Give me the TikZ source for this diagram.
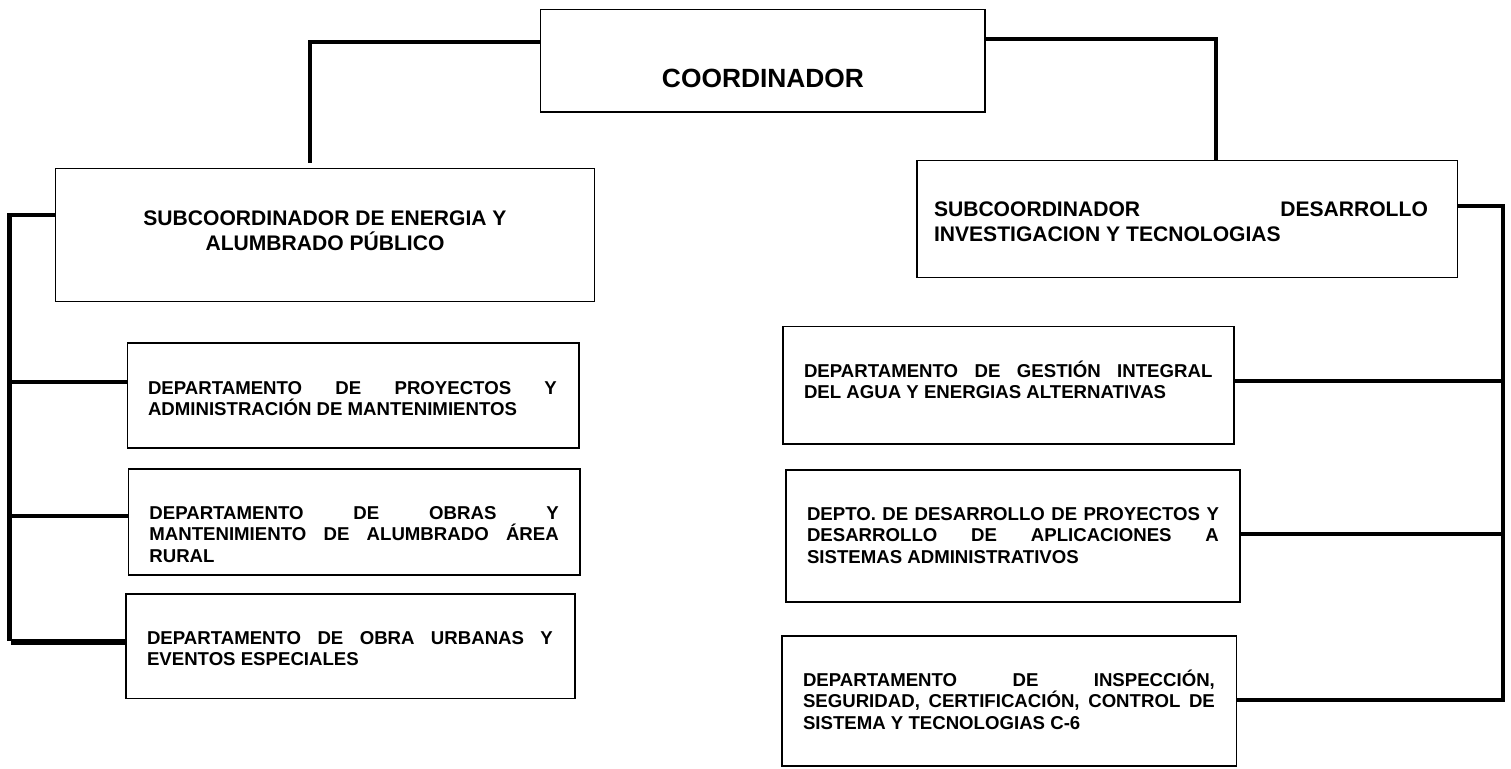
\documentclass[tikz,border=0pt]{standalone}
\usepackage{fontspec}
\setmainfont{Liberation Sans}
\usetikzlibrary{calc}
\newcommand{\deptfont}{\fontsize{10.6}{12.5}\selectfont}
\newcommand{\subfont}{\fontsize{12}{14.5}\selectfont}
\newcommand{\coordfont}{\fontsize{15}{18}\selectfont}
\newcommand{\jtext}[2]{\parbox[t]{#1}{\frenchspacing\hyphenpenalty=10000 \exhyphenpenalty=10000 \hbadness=10000 #2}}
\newcommand{\ctext}[2]{\parbox[t]{#1}{\centering\frenchspacing\hyphenpenalty=10000 #2}}
\tikzset{
  box/.style={draw, rectangle, line width=0.9pt, inner sep=0pt, outer sep=0pt, anchor=north west},
  txt/.style={inner sep=0pt, outer sep=0pt, anchor=base west, font=\bfseries\deptfont},
  conn/.style={line width=2.1pt},
  heavyconn/.style={line width=3.6pt},
}
\newcommand{\orgbox}[5]{\node[box, minimum width={(#4-#2)*0.02cm}, minimum height={(#5-#3)*0.02cm}] (#1) at (#2,#3) {};}
\begin{document}
\begin{tikzpicture}[x=0.02cm, y=-0.02cm]
\useasboundingbox (0,0) rectangle (1511,768);
\fill[white] (0,0) rectangle (1511,768);

% boxes
\orgbox{coord}{540.7}{9.7}{985}{112}
\orgbox{subL}{55.3}{168.7}{594.7}{301.7}
\orgbox{subR}{916.7}{160.5}{1457.3}{277.7}
\orgbox{dL1}{127.7}{343}{579}{448}
\orgbox{dL2}{128.7}{469}{580}{574.7}
\orgbox{dL3}{126}{593.7}{575}{698.3}
\orgbox{dR1}{782.7}{326.7}{1234}{444.2}
\orgbox{dR2}{786}{470}{1240}{601.7}
\orgbox{dR3}{782}{635.7}{1236.5}{766}

% texts
\node[txt, anchor=base, font=\bfseries\coordfont] (coordt) at (763,87) {COORDINADOR};
\node[txt, anchor=base, font=\bfseries\subfont] (subLt) at (325,225)
  {\ctext{10cm}{SUBCOORDINADOR DE ENERGIA Y\\ALUMBRADO PÚBLICO}};
\node[txt, font=\bfseries\subfont] (subRt) at (934,216)
  {\jtext{9.88cm}{SUBCOORDINADOR DESARROLLO\linebreak INVESTIGACION Y TECNOLOGIAS}};
\node[txt] (dL1t) at (148,394)
  {\jtext{8.18cm}{DEPARTAMENTO DE PROYECTOS Y\linebreak ADMINISTRACIÓN DE MANTENIMIENTOS}};
\node[txt] (dL2t) at (149.4,519)
  {\jtext{8.19cm}{DEPARTAMENTO DE OBRAS Y\linebreak MANTENIMIENTO DE ALUMBRADO ÁREA\linebreak RURAL}};
\node[txt] (dL3t) at (147,644)
  {\jtext{8.12cm}{DEPARTAMENTO DE OBRA URBANAS Y\linebreak EVENTOS ESPECIALES}};
\node[txt] (dR1t) at (804,377)
  {\jtext{8.17cm}{DEPARTAMENTO DE GESTIÓN INTEGRAL\linebreak DEL AGUA Y ENERGIAS ALTERNATIVAS}};
\node[txt] (dR2t) at (807,520)
  {\jtext{8.24cm}{DEPTO. DE DESARROLLO DE PROYECTOS Y\linebreak DESARROLLO DE APLICACIONES A\linebreak SISTEMAS ADMINISTRATIVOS}};
\node[txt] (dR3t) at (803,686)
  {\jtext{8.24cm}{DEPARTAMENTO DE INSPECCIÓN,\linebreak SEGURIDAD, CERTIFICACIÓN, CONTROL DE\linebreak SISTEMA Y TECNOLOGIAS C-6}};

% coordinator connectors
\coordinate (cL) at (310,42);
\coordinate (cLend) at (310,163);
\coordinate (cR) at (1216,38.7);
\draw[conn] (coord.west |- cL) -| (cLend);
\draw[conn] (coord.east |- cR) -| (subR.north -| cR);

% left bus
\coordinate (busL) at (9.5,215.3);
\coordinate (busLend) at (9.5,641);
\draw[conn, line width=2.4pt] (subL.west |- busL) -| (busLend);
\coordinate (bL1) at (9.5,381.7);
\coordinate (bL2) at (9.5,516);
\coordinate (bL3) at (11,642);
\draw[conn] (bL1) -- (bL1 -| dL1.west);
\draw[conn] (bL2) -- (bL2 -| dL2.west);
\draw[heavyconn] (bL3) -- (bL3 -| dL3.west);

% right bus
\coordinate (busR) at (1503,205.7);
\coordinate (busRend) at (1503,701.7);
\draw[conn, line width=2.3pt] (subR.east |- busR) -| (busRend);
\coordinate (bR1) at (1503,381);
\coordinate (bR2) at (1503,534);
\coordinate (bR3) at (1503,700);
\draw[conn] (bR1 -| dR1.east) -- (bR1);
\draw[conn] (bR2 -| dR2.east) -- (bR2);
\draw[conn] (bR3 -| dR3.east) -- (bR3);
\end{tikzpicture}
\end{document}
